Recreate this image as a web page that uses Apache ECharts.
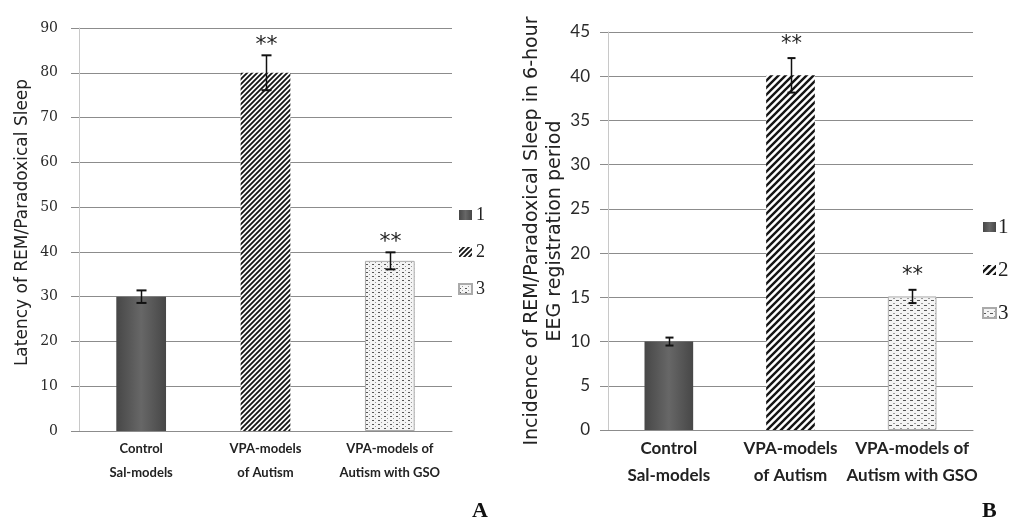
<!DOCTYPE html>
<html><head><meta charset="utf-8">
<script src="https://cdn.jsdelivr.net/npm/echarts@6/dist/echarts.min.js"></script>
<style>html,body{margin:0;padding:0;background:#fff}#c{width:1009px;height:528px}</style>
</head><body><div id="c"></div>
<script>
// ---- data ----
const categories = ['Control\nSal-models', 'VPA-models\nof Autism', 'VPA-models of\nAutism with GSO'];
const legendLabels = ['1', '2', '3'];
const latencyMeans = [30, 80, 38];
const latencyErrors = [1.4, 3.9, 1.9];
const incidenceMeans = [10, 40.1, 15.1];
const incidenceErrors = [0.45, 1.95, 0.75];
const significance = ['', '**', '**'];
const latencyTicks = [0, 10, 20, 30, 40, 50, 60, 70, 80, 90];
const incidenceTicks = [0, 5, 10, 15, 20, 25, 30, 35, 40, 45];
const latencyTitle = 'Latency of REM/Paradoxical Sleep';
const incidenceTitle = 'Incidence of REM/Paradoxical Sleep in 6-hour\nEEG registration period';
const panelLetters = ['A', 'B'];

// ---- patterns ----
function stripes(s, lw) {
  const c = document.createElement('canvas'); c.width = s; c.height = s;
  const g = c.getContext('2d');
  g.fillStyle = '#fff'; g.fillRect(0, 0, s, s);
  g.strokeStyle = '#151515'; g.lineWidth = lw; g.beginPath();
  g.moveTo(0, s); g.lineTo(s, 0);
  g.moveTo(-s, s); g.lineTo(s, -s);
  g.moveTo(0, 2 * s); g.lineTo(2 * s, 0);
  g.stroke();
  return { image: c, repeat: 'repeat' };
}
function dots(w, h) {
  const c = document.createElement('canvas'); c.width = w; c.height = h;
  const g = c.getContext('2d');
  g.fillStyle = '#f4f4f4'; g.fillRect(0, 0, w, h);
  g.fillStyle = '#555'; g.fillRect(0, 0, Math.round(w / 2) - 1, 1);
  g.fillStyle = '#9a9a9a'; g.fillRect(Math.round(w / 2), Math.round(h / 2), Math.round(w / 2) - 2, 1);
  return { image: c, repeat: 'repeat' };
}
const solid = { type: 'linear', x: 0, y: 0, x2: 1, y2: 0,
  colorStops: [{ offset: 0, color: '#474747' }, { offset: 0.5, color: '#676767' }, { offset: 1, color: '#474747' }] };

const styleA = [solid, stripes(5, 1.8), dots(6, 4)];
const styleB = [solid, stripes(7, 2.4), dots(7, 5)];

function barSeries(prefix, means, styles, axisIdx) {
  return legendLabels.map((lab, i) => ({
    type: 'bar', name: prefix + lab, xAxisIndex: axisIdx, yAxisIndex: axisIdx,
    barWidth: '40%', barGap: '-100%',
    data: means.map((v, j) => (j === i ? v : '-')),
    itemStyle: { color: styles[i], borderColor: i === 2 ? '#aaa' : 'transparent', borderWidth: i === 2 ? 1 : 0 },
    emphasis: { disabled: true }, silent: true
  }));
}

function errSeries(means, errors, axisIdx, capHalf, starOff, starSize) {
  return {
    type: 'custom', xAxisIndex: axisIdx, yAxisIndex: axisIdx, z: 10, silent: true,
    data: means.map((m, i) => [i, m, errors[i]]),
    renderItem: function (params, api) {
      const i = api.value(0), m = api.value(1), e = api.value(2);
      const top = api.coord([i, m + e]), bot = api.coord([i, m - e]);
      const x = Math.round(top[0]) + 0.5;
      return { type: 'group', children: [
        { type: 'line', shape: { x1: x, y1: top[1], x2: x, y2: bot[1] }, style: { stroke: '#111', lineWidth: 1.5 } },
        { type: 'line', shape: { x1: x - capHalf, y1: top[1], x2: x + capHalf, y2: top[1] }, style: { stroke: '#111', lineWidth: 2 } },
        { type: 'line', shape: { x1: x - capHalf, y1: bot[1], x2: x + capHalf, y2: bot[1] }, style: { stroke: '#111', lineWidth: 2 } },
        { type: 'text', style: { text: significance[i], x: x, y: top[1] - starOff, align: 'center', verticalAlign: 'middle',
          fontFamily: 'DejaVu Sans', fontSize: starSize, fill: '#222' } }
      ] };
    }
  };
}

const gridColor = '#8c8c8c';
function yAxis(ticks, gridIdx, title, cfg) {
  return {
    type: 'value', gridIndex: gridIdx, min: ticks[0], max: ticks[ticks.length - 1], interval: ticks[1] - ticks[0],
    name: title, nameLocation: 'middle', nameRotate: 90, nameGap: cfg.nameGap,
    nameTextStyle: { fontFamily: 'DejaVu Sans', fontSize: cfg.nameSize, color: '#222', lineHeight: cfg.nameLH, padding: cfg.namePad },
    axisLine: { show: true, lineStyle: { color: '#c8c8c8', width: 1 } },
    axisTick: { show: true, length: 8, lineStyle: { color: gridColor } },
    splitLine: { show: true, lineStyle: { color: gridColor, width: 1 } },
    axisLabel: { margin: cfg.labelMargin, fontFamily: cfg.labelFont, fontSize: cfg.labelSize, color: '#2a2a2a' }
  };
}
function xAxis(gridIdx, cfg) {
  return {
    type: 'category', gridIndex: gridIdx, data: categories,
    axisLine: { show: true, lineStyle: { color: gridColor } },
    axisTick: { show: false },
    axisLabel: { margin: cfg.margin, fontFamily: 'Lato', fontWeight: 'bold', fontSize: cfg.size, lineHeight: cfg.lh, color: '#222', interval: 0 }
  };
}

const option = {
  animation: false,
  backgroundColor: '#fff',
  grid: [
    { left: 79, right: 557, top: 28, bottom: 97 },
    { left: 608, right: 36, top: 32, bottom: 98 }
  ],
  xAxis: [xAxis(0, { size: 13, lh: 24, margin: 6 }), xAxis(1, { size: 17, lh: 27, margin: 5 })],
  yAxis: [
    yAxis(latencyTicks, 0, latencyTitle, { nameGap: 47, nameSize: 17, nameLH: 19, namePad: [0, 0, 0, 14], labelMargin: 21, labelFont: 'DejaVu Serif', labelSize: 14 }),
    yAxis(incidenceTicks, 1, incidenceTitle, { nameGap: 36, nameSize: 19, nameLH: 23, namePad: 0, labelMargin: 18, labelFont: 'Lato', labelSize: 17 })
  ],
  legend: [
    { data: legendLabels.map(l => 'A' + l), orient: 'vertical', left: 458, top: 206, padding: 0, icon: 'rect', itemWidth: 13, itemHeight: 10,
      itemGap: 19, selectedMode: false, formatter: n => n.slice(1),
      textStyle: { fontFamily: 'Liberation Serif', fontSize: 18, color: '#222', lineHeight: 18, padding: [0, 0, 0, -1] } },
    { data: legendLabels.map(l => 'B' + l), orient: 'vertical', left: 982, top: 216, padding: 0, icon: 'rect', itemWidth: 13, itemHeight: 10,
      itemGap: 21, selectedMode: false, formatter: n => n.slice(1),
      textStyle: { fontFamily: 'Liberation Serif', fontSize: 21, color: '#222', lineHeight: 22, padding: [0, 0, 0, -3] } }
  ],
  graphic: [
    { type: 'text', left: 472, top: 500, style: { text: panelLetters[0], fontFamily: 'Liberation Serif', fontWeight: 'bold', fontSize: 22, fill: '#111' } },
    { type: 'text', left: 982, top: 500, style: { text: panelLetters[1], fontFamily: 'Liberation Serif', fontWeight: 'bold', fontSize: 22, fill: '#111' } }
  ],
  series: [
    ...barSeries('A', latencyMeans, styleA, 0),
    ...barSeries('B', incidenceMeans, styleB, 1),
    errSeries(latencyMeans, latencyErrors, 0, 5, 10, 22),
    errSeries(incidenceMeans, incidenceErrors, 1, 4, 14, 21)
  ]
};
const chart = echarts.init(document.getElementById('c'), null, { renderer: 'canvas' });
chart.setOption(option);
</script>
</body></html>
